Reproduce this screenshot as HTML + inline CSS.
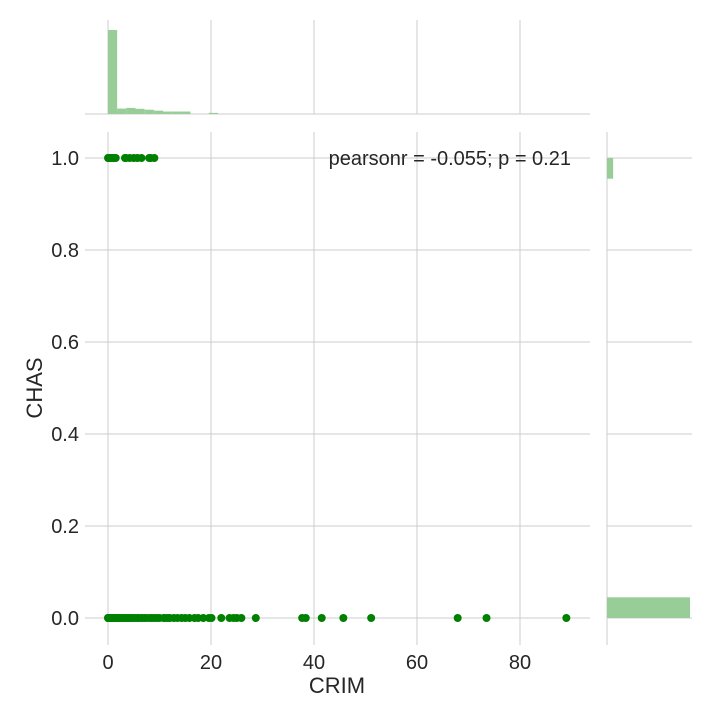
<!DOCTYPE html>
<html><head><meta charset="utf-8"><style>
body{margin:0;background:#fff;font-family:"Liberation Sans",Arial,sans-serif;}
svg text{font-family:"Liberation Sans",Arial,sans-serif;fill:#262626;}
</style></head><body>
<svg id="chart" width="720" height="720" xmlns="http://www.w3.org/2000/svg">
<g id="grid"></g>
<g id="marg"></g>
<g id="pts"></g>
<g id="labels"></g>
</svg>
<script>
const xTicks=[0,20,40,60,80];
const yTicks=[0.0,0.2,0.4,0.6,0.8,1.0];
const crimAt0=[0.01,0.02,0.03,0.05,0.08,0.1,0.13,0.17,0.2,0.25,0.3,0.35,0.4,0.5,0.6,0.7,0.8,0.9,1.0,1.2,1.4,1.6,1.8,2.0,2.3,2.6,3.0,3.3,3.7,4.0,4.4,4.8,5.2,5.7,6.0,6.5,7.0,7.4,8.0,8.5,9.0,9.5,10.0,10.8,11.1,11.6,12.0,12.8,13.5,14.3,15.0,15.8,16.8,17.5,18.5,19.6,20.1,22.0,23.6,24.4,25.0,25.9,28.7,37.7,38.4,41.5,45.7,51.1,67.9,73.5,89.0];
const crimAt1=[0.01,0.05,0.1,0.2,0.3,0.5,0.8,1.0,1.2,1.5,3.3,3.5,4.2,5.0,5.7,6.5,8.0,8.3,9.0];
const histBins=[0,1.78,3.56,5.34,7.12,8.9,10.68,12.46,14.24,16.02,17.8,19.58,21.36];
const histCounts=[373,24,27,23,19,15,11,11,11,0,0,5];
const chasCounts=[471,35];
const X=v=>108+v*5.15, Y=v=>618-v*460;
const ns="http://www.w3.org/2000/svg";
function mk(p,t,a){const e=document.createElementNS(ns,t);for(const k in a)e.setAttribute(k,a[k]);p.appendChild(e);return e;}
const grid=document.getElementById('grid'),marg=document.getElementById('marg'),pts=document.getElementById('pts'),lab=document.getElementById('labels');
xTicks.forEach(v=>{
 let l=mk(grid,'line',{x1:X(v),x2:X(v),y1:132,y2:645,stroke:'#cccccc'});
 
 let l2=mk(grid,'line',{x1:X(v),x2:X(v),y1:20,y2:114,stroke:'#cccccc'});
 
 let t=mk(lab,'text',{x:X(v),y:669,'text-anchor':'middle','font-size':20});t.textContent=v;
 
});
yTicks.forEach(v=>{
 let l=mk(grid,'line',{x1:85,x2:590,y1:Y(v),y2:Y(v),stroke:'#cccccc'});
 
 let l2=mk(grid,'line',{x1:607,x2:692,y1:Y(v),y2:Y(v),stroke:'#cccccc'});
 
 let t=mk(lab,'text',{x:79,y:Y(v)+7,'text-anchor':'end','font-size':20});t.textContent=v.toFixed(1);
 
});
let b1=mk(marg,'line',{x1:85,x2:590,y1:114,y2:114,stroke:'#cccccc'});

let b2=mk(marg,'line',{x1:607,x2:607,y1:132,y2:645,stroke:'#cccccc'});

const hmax=Math.max(...histCounts);
histCounts.forEach((c,i)=>{
 const h=c/hmax*84;
 let r=mk(marg,'rect',{x:X(histBins[i]),y:114-h,width:X(histBins[i+1])-X(histBins[i]),height:h,fill:'#98cd98'});
 
});
const cmax=Math.max(...chasCounts);
chasCounts.forEach((c,i)=>{
 const w=c/cmax*83;
 const y0=i===0?Y(0.045):Y(1.0);
 let r=mk(marg,'rect',{x:607,y:y0,width:w,height:Y(0)-Y(0.045),fill:'#98cd98'});
 
});
crimAt0.forEach(v=>{let c=mk(pts,'circle',{cx:X(v),cy:Y(0),r:4,fill:'#008000'});
 });
crimAt1.forEach(v=>{let c=mk(pts,'circle',{cx:X(v),cy:Y(1),r:4,fill:'#008000'});
 });
let xl=mk(lab,'text',{x:337,y:693,'text-anchor':'middle','font-size':22});xl.textContent='CRIM';

let yl=mk(lab,'text',{x:42,y:388,'text-anchor':'middle','font-size':22,transform:'rotate(-90 42 388)'});yl.textContent='CHAS';

let an=mk(lab,'text',{x:571,y:165,'text-anchor':'end','font-size':20});an.textContent='pearsonr = -0.055; p = 0.21';

</script>
</body></html>
